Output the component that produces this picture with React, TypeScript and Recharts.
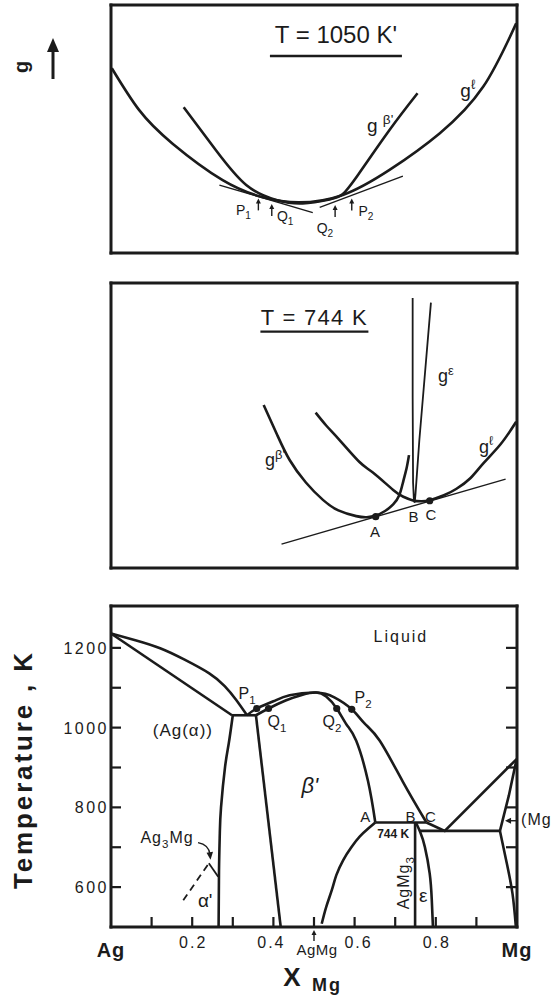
import React from 'react';
import {
  ComposedChart,
  Line,
  Scatter,
  XAxis,
  YAxis,
  ReferenceLine,
  ReferenceDot,
} from 'recharts';

type P = [number, number];

const ink = '#1b1b1b';
const font = '"Liberation Sans", Arial, "DejaVu Sans", sans-serif';

// ---------- T = 1050 K : free energy curves (x = X_Mg, g in arbitrary units)
const gLiq1050: P[] = [
  [0.002, 74.5], [0.069, 57.7], [0.151, 44.2], [0.275, 29.4], [0.374, 22.5],
  [0.462, 20.4], [0.571, 23.4], [0.686, 33.5], [0.81, 48.3], [0.917, 67.1], [0.998, 92.6],
];
const gBeta1050: P[] = [
  [0.179, 58.8], [0.258, 41.5], [0.333, 27.4], [0.407, 21.4], [0.472, 20.0],
  [0.538, 21.6], [0.571, 23.8], [0.61, 31.9], [0.686, 49.6], [0.755, 64.4],
];
const tangentP1Q1: P[] = [[0.267, 27.4], [0.497, 16.3]];
const tangentQ2P2: P[] = [[0.514, 18.4], [0.719, 31.0]];

// ---------- T = 744 K
const gBeta744: P[] = [
  [0.376, 57.2], [0.41, 46.5], [0.44, 37.9], [0.48, 30.0], [0.522, 23.9], [0.56, 20.2],
  [0.604, 18.2], [0.63, 17.8], [0.652, 18.4], [0.675, 20.0], [0.695, 22.3], [0.71, 25.5],
  [0.72, 30.5], [0.728, 35.0], [0.734, 39.6],
];
const gLiq744: P[] = [
  [0.504, 54.5], [0.53, 50.0], [0.563, 44.9], [0.612, 37.2], [0.645, 33.5], [0.695, 27.4],
  [0.72, 25.0], [0.744, 23.7], [0.765, 23.4], [0.785, 23.8], [0.82, 25.5], [0.851, 27.8],
  [0.885, 31.5], [0.917, 36.7], [0.96, 43.5], [0.998, 51.3],
];
const gEps744: P[] = [
  [0.743, 94.7], [0.743, 60.0], [0.744, 30.0], [0.746, 24.0], [0.748, 22.9],
  [0.750, 26.0], [0.7595, 44.9], [0.788, 93.1],
];
const tangent744: P[] = [[0.42, 8.4], [0.972, 31.2]];
const dots744: P[] = [[0.652, 18.0], [0.785, 23.6]];

// ---------- phase diagram (x = X_Mg, T in K)
const liqAg: P[] = [
  [0, 1236], [0.06, 1219], [0.121, 1199], [0.18, 1171], [0.242, 1136], [0.28, 1104],
  [0.308, 1070], [0.335, 1031],
];
const solAg: P[] = [[0, 1236], [0.298, 1031]];
const peritectic1: P[] = [[0.298, 1031], [0.357, 1031]];
const liqBeta: P[] = [
  [0.335, 1031], [0.359, 1048], [0.4, 1066], [0.44, 1081], [0.505, 1088], [0.55, 1076],
  [0.593, 1046], [0.625, 1010], [0.662, 967], [0.719, 864], [0.777, 762],
];
const solBeta: P[] = [
  [0.357, 1031], [0.388, 1048], [0.43, 1068], [0.47, 1082], [0.505, 1088], [0.53, 1078],
  [0.556, 1048], [0.58, 1008], [0.604, 967], [0.633, 866], [0.651, 762],
];
const liqMg: P[] = [[0.777, 762], [0.822, 741], [0.999, 921]];
const solMg: P[] = [[0.999, 921], [0.98, 830], [0.958, 741]];
const solvusMg: P[] = [[0.958, 741], [0.975, 659], [0.989, 583], [0.997, 503]];
const peritectic2: P[] = [[0.651, 762], [0.777, 762]];
const eutectic: P[] = [[0.76, 741], [0.958, 741]];
const agMg3Line: P[] = [[0.749, 762], [0.749, 500]];
const epsBound: P[] = [[0.751, 762], [0.762, 737], [0.773, 701], [0.785, 634], [0.79, 570], [0.793, 500]];
const betaLow: P[] = [
  [0.651, 762], [0.635, 748], [0.613, 727], [0.592, 700], [0.572, 668], [0.555, 630],
  [0.544, 593], [0.53, 550], [0.519, 508],
];
const alphaBound: P[] = [[0.3, 1031], [0.29, 960], [0.281, 902], [0.271, 800], [0.268, 735], [0.266, 640], [0.265, 500]];
const betaLeft: P[] = [[0.357, 1031], [0.418, 500]];
const ag3MgDash: P[] = [[0.178, 567], [0.241, 660]];
const ag3MgSolid: P[] = [[0.241, 660], [0.264, 626]];
const dotsPQ: P[] = [[0.359, 1048], [0.388, 1048], [0.556, 1048], [0.593, 1046]];

const xTicks = [0, 0.1, 0.2, 0.3, 0.4, 0.5, 0.6, 0.7, 0.8, 0.9, 1];
const xInnerTicks = [0.1, 0.2, 0.3, 0.4, 0.5, 0.6, 0.7, 0.8, 0.9];
const xTickText: Record<string, string> = { '0': 'Ag', '0.2': '0.2', '0.4': '0.4', '0.6': '0.6', '0.8': '0.8', '1': 'Mg' };
const tTicks = [600, 700, 800, 900, 1000, 1100, 1200];
const tTickText: Record<string, string> = { '600': '600', '800': '800', '1000': '1000', '1200': '1200' };

const pts = (a: P[]) => a.map(([x, y]) => ({ x, y }));

const curve = (key: string, d: P[], o: { type?: any; w?: number; dash?: string } = {}) => (
  <Line
    key={key}
    data={pts(d)}
    dataKey="y"
    type={o.type ?? 'natural'}
    stroke={ink}
    strokeWidth={o.w ?? 2.6}
    strokeDasharray={o.dash}
    dot={false}
    activeDot={false}
    isAnimationActive={false}
  />
);

function parse(s: string) {
  const out: { t: string; k: string }[] = [];
  const re = /([_^])\{([^}]*)\}|([^_^]+)/g;
  let m: RegExpExecArray | null;
  while ((m = re.exec(s))) out.push(m[3] !== undefined ? { t: m[3], k: '' } : { t: m[2], k: m[1] });
  return out;
}

function Note(props: any) {
  const { viewBox, text = '', size = 15, bold, italic, anchor = 'middle', rotate = 0, ul, ls = 0, arrow } = props;
  if (!viewBox) return null;
  const x = viewBox.x + (viewBox.width || 0) / 2;
  const y = viewBox.y + (viewBox.height || 0) / 2;
  let off = 0;
  const spans = parse(text).map((p, i) => {
    const target = p.k === '_' ? size * 0.3 : p.k === '^' ? -size * 0.42 : 0;
    const dy = target - off;
    off = target;
    return (
      <tspan key={i} dy={dy || undefined} fontSize={p.k ? size * 0.72 : undefined}>
        {p.t}
      </tspan>
    );
  });
  return (
    <g transform={rotate ? `rotate(${rotate} ${x} ${y})` : undefined}>
      {text && (
        <text
          x={x}
          y={y + size * 0.36}
          textAnchor={anchor}
          fontSize={size}
          fontWeight={bold ? 700 : 400}
          fontStyle={italic ? 'italic' : undefined}
          fontFamily={font}
          letterSpacing={ls}
          fill={ink}
        >
          {spans}
        </text>
      )}
      {ul && <line x1={x - ul[0] / 2} x2={x + ul[0] / 2} y1={y + ul[1]} y2={y + ul[1]} stroke={ink} strokeWidth={2.4} />}
      {arrow && (
        <g transform={`translate(${x} ${y})`}>
          <path d={arrow[0]} stroke={ink} strokeWidth={1.4} fill="none" />
          {arrow[1] && <path d={arrow[1]} fill={ink} />}
        </g>
      )}
    </g>
  );
}

const note = (key: string, x: number, y: number, text: string, o: any = {}) => (
  <ReferenceDot key={key} x={x} y={y} r={0} ifOverflow="visible" label={<Note text={text} {...o} />} />
);

const upArrow = ['M0 6 L0 -2', 'M-2.5 -1 L0 -6 L2.5 -1 Z'];

// box round the plot: four reference lines, no fill
const frame = (lo: number, hi: number) => [
  <ReferenceLine key="f1" x={0} stroke={ink} strokeWidth={3} strokeLinecap="square" ifOverflow="visible" />,
  <ReferenceLine key="f2" x={1} stroke={ink} strokeWidth={3} strokeLinecap="square" ifOverflow="visible" />,
  <ReferenceLine key="f3" y={lo} stroke={ink} strokeWidth={3} strokeLinecap="square" ifOverflow="visible" />,
  <ReferenceLine key="f4" y={hi} stroke={ink} strokeWidth={3} strokeLinecap="square" ifOverflow="visible" />,
];

function GAxisLabel({ viewBox }: any) {
  if (!viewBox) return null;
  const { x, y } = viewBox;
  return (
    <g>
      <text
        transform={`rotate(-90 ${x + 22} ${y + 62})`}
        x={x + 22}
        y={y + 62 + 6}
        textAnchor="middle"
        fontSize={20}
        fontWeight={700}
        fontFamily={font}
        fill={ink}
      >
        g
      </text>
      <path d={`M${x + 53} ${y + 74} L${x + 53} ${y + 44}`} stroke={ink} strokeWidth={3} />
      <path d={`M${x + 47} ${y + 47} L${x + 53} ${y + 33} L${x + 59} ${y + 47} Z`} fill={ink} />
    </g>
  );
}

function TempLabel({ viewBox }: any) {
  if (!viewBox) return null;
  const cx = viewBox.x + 23;
  const cy = viewBox.y + 165;
  return (
    <text
      transform={`rotate(-90 ${cx} ${cy})`}
      x={cx}
      y={cy + 9}
      textAnchor="middle"
      fontSize={26}
      fontWeight={700}
      fontFamily={font}
      fill={ink}
      textLength={236}
      lengthAdjust="spacing"
    >
      Temperature , K
    </text>
  );
}

function XTitle({ viewBox }: any) {
  if (!viewBox) return null;
  const { x, y } = viewBox;
  return (
    <g fontFamily={font} fill={ink} fontWeight={700}>
      <text x={x + 181} y={y + 50 + 9} textAnchor="middle" fontSize={26}>X</text>
      <text x={x + 216} y={y + 58 + 6} textAnchor="middle" fontSize={18} letterSpacing={2}>Mg</text>
    </g>
  );
}

function XTick3({ x, y, payload }: any) {
  const key = String(+(+payload.value).toFixed(1));
  if (key === '0.5') {
    return (
      <g fill={ink} fontFamily={font}>
        <path d={`M${x} ${y + 14} L${x} ${y + 7}`} stroke={ink} strokeWidth={1.4} />
        <path d={`M${x - 2.5} ${y + 8} L${x} ${y + 3} L${x + 2.5} ${y + 8} Z`} />
        <text x={x + 3} y={y + 23 + 5} textAnchor="middle" fontSize={15} letterSpacing={0.5}>AgMg</text>
      </g>
    );
  }
  const s = xTickText[key];
  if (!s) return null;
  const big = s === 'Ag' || s === 'Mg';
  const dx = key === '0.4' ? -3 : key === '0.6' ? 3 : 0;
  return (
    <text
      x={x + dx + (big ? 0 : 1)}
      y={y + (big ? 30 : 20.5)}
      textAnchor="middle"
      fontSize={big ? 20 : 16}
      fontWeight={big ? 700 : 400}
      letterSpacing={big ? 1 : 2}
      fontFamily={font}
      fill={ink}
    >
      {s}
    </text>
  );
}

function YTick3({ x, y, payload }: any) {
  const s = tTickText[String(payload.value)];
  if (!s) return null;
  return (
    <text x={x - 2} y={y + 6} textAnchor="end" fontSize={16} letterSpacing={2.5} fontFamily={font} fill={ink}>
      {s}
    </text>
  );
}

const DotShape = (p: any) => <circle cx={p.cx} cy={p.cy} r={3.6} fill={ink} />;

// tick marks as scatter shapes: a short stroke from the frame inward
const BottomTick = (p: any) => <line x1={p.cx} x2={p.cx} y1={p.cy} y2={p.cy - 10} stroke={ink} strokeWidth={2.2} />;
const LeftTick = (p: any) => <line x1={p.cx} x2={p.cx + 10} y1={p.cy} y2={p.cy} stroke={ink} strokeWidth={2.2} />;
const RightTick = (p: any) => <line x1={p.cx} x2={p.cx - 11} y1={p.cy} y2={p.cy} stroke={ink} strokeWidth={2.2} />;

const bottomTickPts = xInnerTicks.map((v) => ({ x: v, y: 500 }));
const leftTickPts = tTicks.map((v) => ({ x: 0, y: v }));
const rightTickPts = tTicks.map((v) => ({ x: 1, y: v }));

export default function App() {
  return (
    <div style={{ position: 'absolute', left: 0, top: 0, width: 552, height: 998, background: '#fff' }}>
      {/* T = 1050 K */}
      <div style={{ position: 'absolute', left: 0, top: 0 }}>
        <ComposedChart width={552} height={262} margin={{ top: 5, right: 35, bottom: 9, left: 0 }}>
          <XAxis type="number" dataKey="x" domain={[0, 1]} allowDataOverflow hide />
          <YAxis
            type="number"
            dataKey="y"
            domain={[0, 100]}
            allowDataOverflow
            width={111}
            tick={false}
            tickLine={false}
            axisLine={false}
            label={<GAxisLabel />}
          />
          {frame(0, 100)}
          {curve('l', gLiq1050)}
          {curve('b', gBeta1050)}
          {curve('t1', tangentP1Q1, { type: 'linear', w: 1.4 })}
          {curve('t2', tangentQ2P2, { type: 'linear', w: 1.4 })}
          {note('title', 0.554, 88.3, "T = 1050 K'", { size: 24, ul: [132, 22] })}
          {note('gb', 0.663, 51.6, "g ^{β'}", { size: 19 })}
          {note('gl', 0.879, 65.7, 'g^{ℓ}', { size: 19 })}
          {note('p1', 0.326, 17.3, 'P_{1}', { size: 14 })}
          {note('q1', 0.429, 14.9, 'Q_{1}', { size: 14 })}
          {note('q2', 0.527, 10.1, 'Q_{2}', { size: 14 })}
          {note('p2', 0.628, 16.9, 'P_{2}', { size: 14 })}
          {note('ap1', 0.363, 19.6, '', { arrow: upArrow })}
          {note('aq1', 0.396, 17.3, '', { arrow: upArrow })}
          {note('aq2', 0.552, 16.9, '', { arrow: upArrow })}
          {note('ap2', 0.593, 19.6, '', { arrow: upArrow })}
        </ComposedChart>
      </div>

      {/* T = 744 K */}
      <div style={{ position: 'absolute', left: 0, top: 270 }}>
        <ComposedChart width={552} height={305} margin={{ top: 13, right: 35, bottom: 7, left: 111 }}>
          <XAxis type="number" dataKey="x" domain={[0, 1]} allowDataOverflow hide />
          <YAxis type="number" dataKey="y" domain={[0, 100]} allowDataOverflow hide />
          {frame(0, 100)}
          {curve('b', gBeta744)}
          {curve('l', gLiq744)}
          {curve('e', gEps744, { type: 'linear', w: 1.8 })}
          {curve('t', tangent744, { type: 'linear', w: 1.4 })}
          <Scatter data={pts(dots744)} dataKey="y" shape={DotShape} isAnimationActive={false} />
          {note('title', 0.501, 88.1, 'T = 744 K', { size: 22, ls: 1.3, ul: [108, 14.7] })}
          {note('gb', 0.404, 37.9, "g^{β'}", { size: 18 })}
          {note('ge', 0.825, 67.4, 'g^{ε}', { size: 18 })}
          {note('gl', 0.924, 42.8, 'g^{ℓ}', { size: 18 })}
          {note('A', 0.65, 12.7, 'A', { size: 15 })}
          {note('B', 0.745, 18.0, 'B', { size: 15 })}
          {note('C', 0.788, 18.9, 'C', { size: 15 })}
        </ComposedChart>
      </div>

      {/* phase diagram */}
      <div style={{ position: 'absolute', left: 0, top: 590 }}>
        <ComposedChart width={552} height={408} margin={{ top: 16, right: 35, bottom: 0, left: 0 }}>
          <XAxis
            type="number"
            dataKey="x"
            domain={[0, 1]}
            allowDataOverflow
            ticks={xTicks}
            interval={0}
            height={71}
            axisLine={false}
            tickSize={0}
            tickMargin={0}
            tickLine={false}
            tick={<XTick3 />}
            label={<XTitle />}
          />
          <YAxis
            type="number"
            dataKey="y"
            domain={[500, 1305]}
            allowDataOverflow
            ticks={tTicks}
            interval={0}
            width={111}
            axisLine={false}
            tickSize={0}
            tickMargin={0}
            tickLine={false}
            tick={<YTick3 />}
            label={<TempLabel />}
          />
          {frame(500, 1305)}
          <Scatter data={bottomTickPts} dataKey="y" shape={BottomTick} isAnimationActive={false} />
          <Scatter data={leftTickPts} dataKey="y" shape={LeftTick} isAnimationActive={false} />
          <Scatter data={rightTickPts} dataKey="y" shape={RightTick} isAnimationActive={false} />
          {curve('liqAg', liqAg)}
          {curve('solAg', solAg, { type: 'linear' })}
          {curve('per1', peritectic1, { type: 'linear' })}
          {curve('liqB', liqBeta)}
          {curve('solB', solBeta)}
          {curve('liqMg', liqMg, { type: 'linear' })}
          {curve('solMg', solMg, { type: 'linear' })}
          {curve('solvMg', solvusMg)}
          {curve('per2', peritectic2, { type: 'linear' })}
          {curve('eut', eutectic, { type: 'linear' })}
          {curve('agmg3', agMg3Line, { type: 'linear' })}
          {curve('eps', epsBound)}
          {curve('bLow', betaLow)}
          {curve('aB', alphaBound)}
          {curve('bL', betaLeft, { type: 'linear' })}
          {curve('a3d', ag3MgDash, { type: 'linear', w: 1.8, dash: '7 5' })}
          {curve('a3s', ag3MgSolid, { type: 'linear', w: 1.8 })}
          <Scatter data={pts(dotsPQ)} dataKey="y" shape={DotShape} isAnimationActive={false} />
          {note('liq', 0.714, 1228, 'Liquid', { size: 16, ls: 2 })}
          {note('P1', 0.335, 1085, 'P_{1}', { size: 16 })}
          {note('Q1', 0.409, 1015, 'Q_{1}', { size: 16 })}
          {note('Q2', 0.544, 1015, 'Q_{2}', { size: 16 })}
          {note('P2', 0.621, 1076, 'P_{2}', { size: 16 })}
          {note('agA', 0.177, 994, '(Ag(α))', { size: 17, ls: 1 })}
          {note('beta', 0.49, 856, "β'", { size: 22, italic: true })}
          {note('A', 0.626, 777, 'A', { size: 15 })}
          {note('B', 0.738, 777, 'B', { size: 15 })}
          {note('C', 0.787, 777, 'C', { size: 15 })}
          {note('744', 0.695, 734, '744 K', { size: 12, bold: true })}
          {note('agmg3', 0.72, 611, 'AgMg_{3}', { size: 16, rotate: -90, ls: 1 })}
          {note('eps', 0.769, 581, 'ε', { size: 19 })}
          {note('ag3mg', 0.138, 724, 'Ag_{3}Mg', {
            size: 16,
            ls: 1,
            arrow: ['M31 5 Q42 7 43 17', 'M39.5 15 L43.5 22 L46 14 Z'],
          })}
          {note('alpha', 0.232, 568, "α'", { size: 19 })}
          {note('mg', 1.01, 769, '(Mg', {
            size: 16,
            anchor: 'start',
            ls: 1,
            arrow: ['M-3 1 L-13 1', 'M-10 -2 L-16 1 L-10 4 Z'],
          })}
        </ComposedChart>
      </div>
    </div>
  );
}
